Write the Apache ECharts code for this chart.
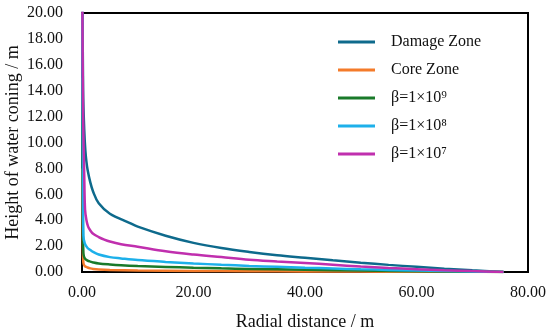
<!DOCTYPE html>
<html>
<head>
<meta charset="utf-8">
<script src="https://cdn.jsdelivr.net/npm/echarts@6/dist/echarts.min.js"></script>
<style>html,body{margin:0;padding:0;background:#fff;}#c{width:550px;height:330px;}</style>
</head>
<body>
<div id="c"></div>
<script>
// Axis ticks
var xTicks = [0, 20, 40, 60, 80];
var yTicks = [0, 2, 4, 6, 8, 10, 12, 14, 16, 18, 20];

// Series names
var names = ['Damage Zone', 'Core Zone', 'β=1×10⁹', 'β=1×10⁸', 'β=1×10⁷'];

// Damage Zone
var damageR = [0.05, 0.2, 0.4, 0.6, 0.8, 1, 1.5, 2, 3, 5, 8.5, 10, 15, 20, 25, 30, 35, 40, 45, 50, 55, 60, 65, 70, 75.6];
var damageH = [24, 14, 11, 9.4, 8.5, 7.9, 6.9, 6.2, 5.3, 4.5, 3.8, 3.5, 2.8, 2.25, 1.85, 1.55, 1.3, 1.1, 0.9, 0.72, 0.55, 0.4, 0.26, 0.13, 0];

// Core Zone
var coreR = [0.05, 0.15, 0.25, 0.5, 1, 1.5, 2, 3, 5, 10, 20, 30, 40, 50, 60, 75.6];
var coreH = [8, 2, 0.7, 0.45, 0.35, 0.28, 0.24, 0.2, 0.16, 0.12, 0.08, 0.06, 0.04, 0.03, 0.02, 0];

// beta = 1e9
var b9R = [0.05, 0.15, 0.25, 0.5, 1, 1.5, 2, 3, 5, 7, 10, 15, 20, 25, 30, 40, 50, 60, 70, 75.6];
var b9H = [15, 4, 1.45, 1.05, 0.88, 0.8, 0.74, 0.66, 0.58, 0.52, 0.46, 0.39, 0.33, 0.28, 0.24, 0.17, 0.11, 0.06, 0.02, 0];

// beta = 1e8
var b8R = [0.05, 0.15, 0.25, 0.5, 1, 1.5, 2, 3, 5, 7, 10, 15, 20, 25, 30, 35, 40, 45, 50, 55, 60, 65, 70, 75.6];
var b8H = [20, 8, 2.8, 2.2, 1.85, 1.7, 1.55, 1.35, 1.15, 1.05, 0.92, 0.78, 0.66, 0.56, 0.47, 0.4, 0.33, 0.27, 0.21, 0.16, 0.11, 0.07, 0.03, 0];

// beta = 1e7
var b7R = [0.05, 0.2, 0.4, 0.55, 0.8, 1.1, 1.5, 2, 3, 4, 5, 7, 10, 15, 20, 25, 30, 35, 40, 45, 50, 55, 60, 65, 70, 75.6];
var b7H = [22, 12, 7.5, 4.8, 4.0, 3.5, 3.2, 2.95, 2.7, 2.5, 2.35, 2.15, 1.95, 1.6, 1.35, 1.15, 0.95, 0.82, 0.7, 0.56, 0.42, 0.31, 0.22, 0.14, 0.07, 0];

var colors = ['#0E6A8C', '#F47B2A', '#1A7A2A', '#1DB0EA', '#C02FAE'];

function pairs(xs, ys) { return xs.map(function (x, i) { return [x, ys[i]]; }); }
var datasets = [pairs(damageR, damageH), pairs(coreR, coreH), pairs(b9R, b9H), pairs(b8R, b8H), pairs(b7R, b7H)];

var font = '"Liberation Serif", "Times New Roman", serif';
var chart = echarts.init(document.getElementById('c'), null, { renderer: 'canvas' });
chart.setOption({
  animation: false,
  backgroundColor: '#fff',
  color: colors,
  grid: { left: 82, right: 22, top: 13, bottom: 58, show: true, borderColor: '#000', borderWidth: 2, backgroundColor: 'transparent', containLabel: false, outerBoundsMode: 'none' },
  legend: {
    orient: 'vertical', left: 338, top: 33, padding: 0,
    itemWidth: 37, itemHeight: 3, itemGap: 10,
    icon: 'rect',
    textStyle: { fontFamily: font, fontSize: 16, color: '#111', lineHeight: 18, padding: [0, 0, 0, 11] },
    data: names
  },
  xAxis: {
    type: 'value', min: xTicks[0], max: xTicks[xTicks.length - 1], interval: 20,
    name: 'Radial distance / m', nameLocation: 'middle', nameGap: 41, nameMoveOverlap: false,
    nameTextStyle: { fontFamily: font, fontSize: 18, color: '#111' },
    axisLine: { show: true, lineStyle: { color: '#000', width: 2 } },
    axisTick: { show: false },
    splitLine: { show: false },
    axisLabel: { fontFamily: font, fontSize: 16, color: '#111', margin: 13, formatter: function (v) { return v.toFixed(2); } }
  },
  yAxis: {
    type: 'value', min: yTicks[0], max: yTicks[yTicks.length - 1], interval: 2,
    name: 'Height of water coning / m', nameLocation: 'middle', nameGap: 60, nameRotate: 90, nameMoveOverlap: false,
    nameTextStyle: { fontFamily: font, fontSize: 18, color: '#111' },
    axisLine: { show: true, lineStyle: { color: '#000', width: 2 } },
    axisTick: { show: false },
    splitLine: { show: false },
    axisLabel: { fontFamily: font, fontSize: 16, color: '#111', margin: 19, formatter: function (v) { return v.toFixed(2); } }
  },
  series: names.map(function (n, i) {
    return {
      name: n, type: 'line', data: datasets[i], showSymbol: false, symbol: 'none',
      smooth: 0.35, clip: true,
      lineStyle: { width: 2.5, color: colors[i] }
    };
  })
});
</script>
</body>
</html>
